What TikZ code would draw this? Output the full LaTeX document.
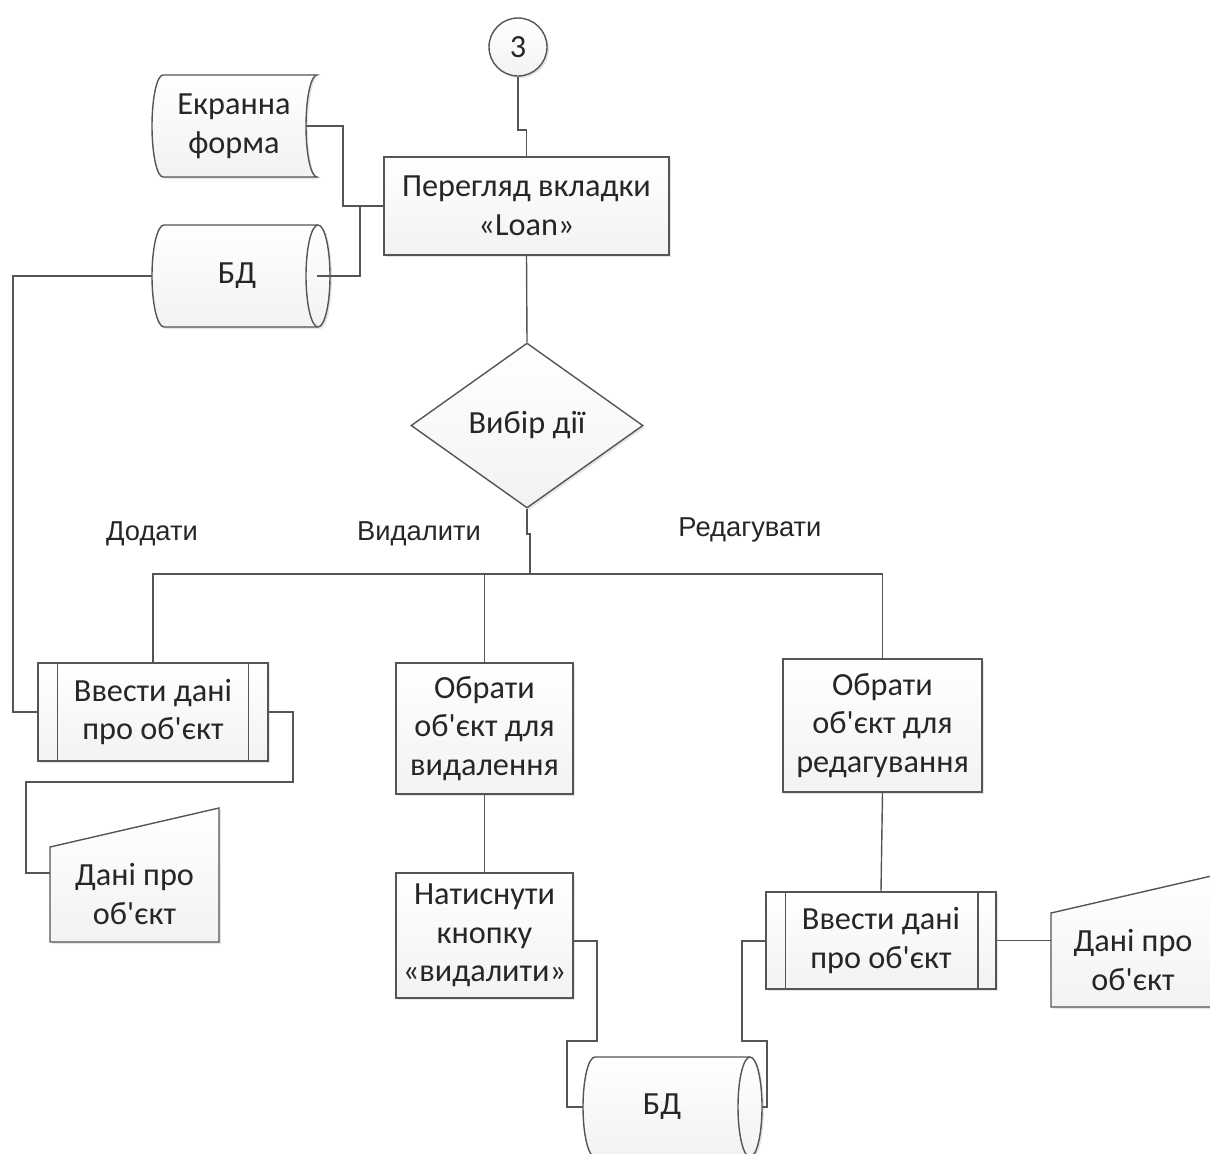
\documentclass[tikz,border=0pt]{standalone}
\usepackage{fontspec}
\newfontfamily\calf{Carlito}[Ligatures=TeXOff]
\newfontfamily\arsf{Liberation Sans}
\usetikzlibrary{shapes.geometric,shadows}
\definecolor{lc}{RGB}{85,85,85}
\definecolor{tc}{RGB}{38,38,38}
\def\PX{0.75pt}
\begin{document}
\begin{tikzpicture}[x=0.75pt,y=-0.75pt,
  ln/.style={draw=lc, line width=1.05pt},
  fillsh/.style={top color=white, bottom color=black!5,
    drop shadow={shadow xshift=1.5pt, shadow yshift=-1.5pt, fill=black, opacity=0.1}},
  shp/.style={ln, fillsh},
  tx/.style={text=tc, align=center, inner sep=0pt, font=\calf\fontsize{24.2}{29}\selectfont},
  box/.style={shp, tx, rectangle},
  lbl/.style={text=tc, inner sep=0pt, font=\arsf\fontsize{20.5}{24}\selectfont}]
\useasboundingbox (0,0) rectangle (1210,1153);
\clip (0,0) rectangle (1210,1153);

% ---- custom outlines ----
% display shape
\path[shp] (163,75) -- (317,75) arc[start angle=90, end angle=270, x radius=11*\PX, y radius=51*\PX]
  -- (163,177) arc[start angle=270, end angle=90, x radius=11*\PX, y radius=51*\PX] -- cycle;
% top cylinder
\path[shp] (164,225) -- (318,225) arc[start angle=90, end angle=-90, x radius=12*\PX, y radius=51*\PX]
  -- (164,327) arc[start angle=270, end angle=90, x radius=12*\PX, y radius=51*\PX] -- cycle;
\draw[ln] (318,225) arc[start angle=90, end angle=270, x radius=12*\PX, y radius=51*\PX];
% bottom cylinder
\path[shp] (595,1057) -- (750,1057) arc[start angle=90, end angle=-90, x radius=12*\PX, y radius=50*\PX]
  -- (595,1157) arc[start angle=270, end angle=90, x radius=12*\PX, y radius=50*\PX] -- cycle;
\draw[ln] (750,1057) arc[start angle=90, end angle=270, x radius=12*\PX, y radius=50*\PX];
% manual inputs
\path[shp] (50,847) -- (219,808) -- (219,942) -- (50,942) -- cycle;
\path[shp] (1051,913) -- (1220,874) -- (1220,1007) -- (1051,1007) -- cycle;

% ---- nodes ----
\node[box, circle, minimum size=58*\PX] (c3) at (518,47) {3};
\node[box, minimum width=285*\PX, minimum height=98*\PX] (view) at (526.5,206) {Перегляд вкладки\\«Loan»};
\node[box, diamond, minimum width=232*\PX, minimum height=165*\PX] (choice) at (527,425.5) {Вибір дії};
\node[tx] (screen) at (234,126) {Екранна\\форма};
\node[tx] (bd1) at (237,276) {БД};
\node[tx] (bd2) at (662,1107) {БД};
\node[tx] (manL) at (134.5,894) {Дані про\\об'єкт};
\node[tx] (manR) at (1133,960) {Дані про\\об'єкт};
\node[box, minimum width=230*\PX, minimum height=98*\PX] (add) at (153,712) {Ввести дані\\про об'єкт};
\node[box, minimum width=177*\PX, minimum height=131*\PX] (del) at (484.5,728.5) {Обрати\\об'єкт для\\видалення};
\node[box, minimum width=177*\PX, minimum height=125*\PX] (press) at (484.5,935.5) {Натиснути\\кнопку\\«видалити»};
\node[box, minimum width=199*\PX, minimum height=133*\PX] (edit) at (882.5,725.5) {Обрати\\об'єкт для\\редагування};
\node[box, minimum width=230*\PX, minimum height=97*\PX] (add2) at (881,940.5) {Ввести дані\\про об'єкт};
\draw[ln] ([xshift=15pt]add.north west) -- ([xshift=15pt]add.south west);
\draw[ln] ([xshift=-15pt]add.north east) -- ([xshift=-15pt]add.south east);
\draw[ln] ([xshift=15pt]add2.north west) -- ([xshift=15pt]add2.south west);
\draw[ln] ([xshift=-14pt]add2.north east) -- ([xshift=-14pt]add2.south east);

\node[lbl] (lAdd) at (152,534) {Додати};
\node[lbl] (lDel) at (419,534) {Видалити};
\node[lbl] (lEdit) at (750,530) {Редагувати};

% ---- connection points ----
\coordinate (screenR) at (306,126);
\coordinate (bd1R) at (317,276);
\coordinate (bd1L) at (152,276);
\coordinate (manLin) at (50,873);
\coordinate (manRin) at (1051,940.5);
\coordinate (pressR) at (573,941);
\coordinate (bd2L) at (583,1107);
\coordinate (bd2R) at (762,1107);
\coordinate (add2L) at (766,941);
\coordinate (bus) at (530,574);

% ---- connectors ----
\draw[ln] (c3.south) -- (c3.south |- 0,130) -| (view.north);
\draw[ln] (view.south) -- (choice.north);
\draw[ln] (screenR) -- (343,126) |- (view.west);
\draw[ln] (bd1R) -- (360,276) -- (360,206);
\draw[ln] (choice.south) -- (choice.south |- 0,534) -| (bus);
\draw[ln] (add.north) |- (bus);
\draw[ln] (edit.north) |- (bus);
\draw[ln] (del.north) -- (del.north |- bus);
\draw[ln] (bd1L) -- (13,276) |- (add.west);
\draw[ln] (add.east) -- (293,712) -- (293,782) -- (26,782) |- (manLin);
\draw[ln] (del.south) -- (press.north);
\draw[ln] (pressR) -- (597,941) -- (597,1041) -- (567,1041) |- (bd2L);
\draw[ln] (bd2R) -- (767,1107) -- (767,1041) -- (742,1041) |- (add2L);
\draw[ln] (edit.south) -- (add2.north);
\draw[ln] (add2.east) -- (manRin);
\end{tikzpicture}
\end{document}
